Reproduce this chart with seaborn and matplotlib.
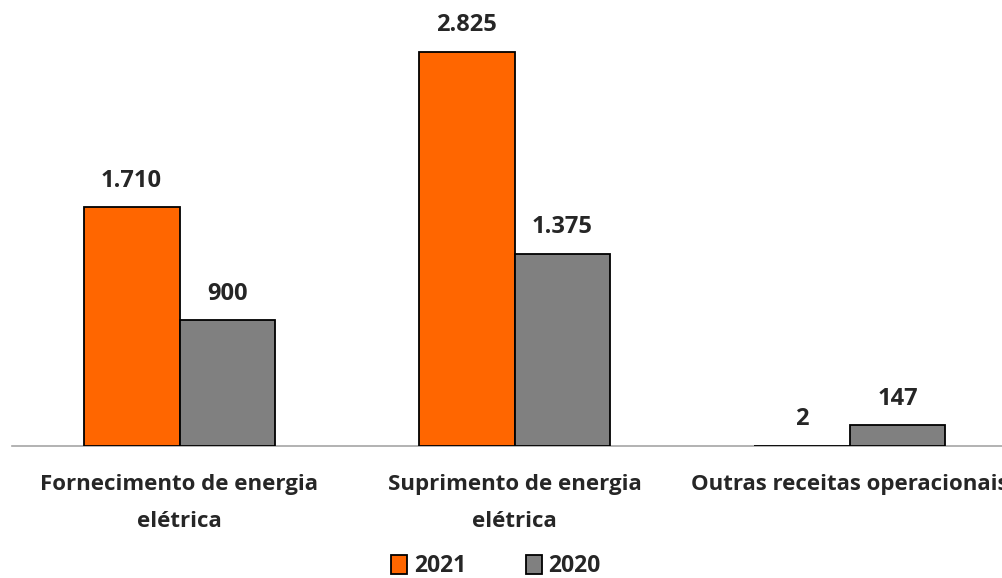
import matplotlib
matplotlib.use("Agg")
import matplotlib.pyplot as plt
import seaborn as sns
import pandas as pd
import numpy as np

categories = ["Fornecimento de energia\nelétrica", "Suprimento de energia\nelétrica", "Outras receitas operacionais"]
series_names = ["2021", "2020"]
values_2021 = [1710, 2825, 2]
values_2020 = [900, 1375, 147]
colors = ["#FF6600", "#808080"]

df = pd.DataFrame({
    "categoria": categories * 2,
    "ano": [series_names[0]] * 3 + [series_names[1]] * 3,
    "valor": values_2021 + values_2020,
})

sns.set_style("white")
plt.rcParams["font.family"] = ["Open Sans", "DejaVu Sans"]

fig = plt.figure(figsize=(10.03, 5.78), dpi=100)
ax = fig.add_axes([12 / 1003, (578 - 446) / 578, 1005 / 1003, 446 / 578])

sns.barplot(data=df, x="categoria", y="valor", hue="ano", palette=colors, saturation=1,
            width=0.573, edgecolor="black", linewidth=1.3, ax=ax, legend=True)

ax.set_xlim(-0.5, 2.5)
ax.set_ylim(0, 3197)
ax.set_yticks([])
ax.set_xlabel("")
ax.set_ylabel("")
for s in ["top", "right", "left"]:
    ax.spines[s].set_visible(False)
ax.spines["bottom"].set_color("#A6A6A6")
ax.spines["bottom"].set_linewidth(1.2)
ax.spines["bottom"].set_zorder(0.5)

ax.set_xticks(range(len(categories)))
ax.set_xticklabels(categories, fontsize=16, fontweight="bold", linespacing=2.0)
ax.tick_params(axis="x", which="major", length=0, pad=20)
ax.set_xticks([-0.5, 0.5, 1.5, 2.5], minor=True)
ax.tick_params(axis="x", which="minor", length=8, width=1.2, color="#A6A6A6", direction="out")

def fmt(v):
    return f"{v:,}".replace(",", ".")

for cont in ax.containers:
    for bar in cont:
        h = bar.get_height()
        ax.annotate(fmt(int(round(h))), (bar.get_x() + bar.get_width() / 2, h),
                    xytext=(0, 15), textcoords="offset points", ha="center", va="baseline",
                    fontsize=17, fontweight="bold")

leg = ax.legend(loc="lower center", bbox_to_anchor=(495 / 1003 - 12 / 1003, -0.343),
                ncol=2, frameon=False, fontsize=16.5, handlelength=0.7, handleheight=0.85,
                columnspacing=2.6, handletextpad=0.3)
for t in leg.get_texts():
    t.set_fontweight("bold")

fig.savefig("out.png", dpi=100)
